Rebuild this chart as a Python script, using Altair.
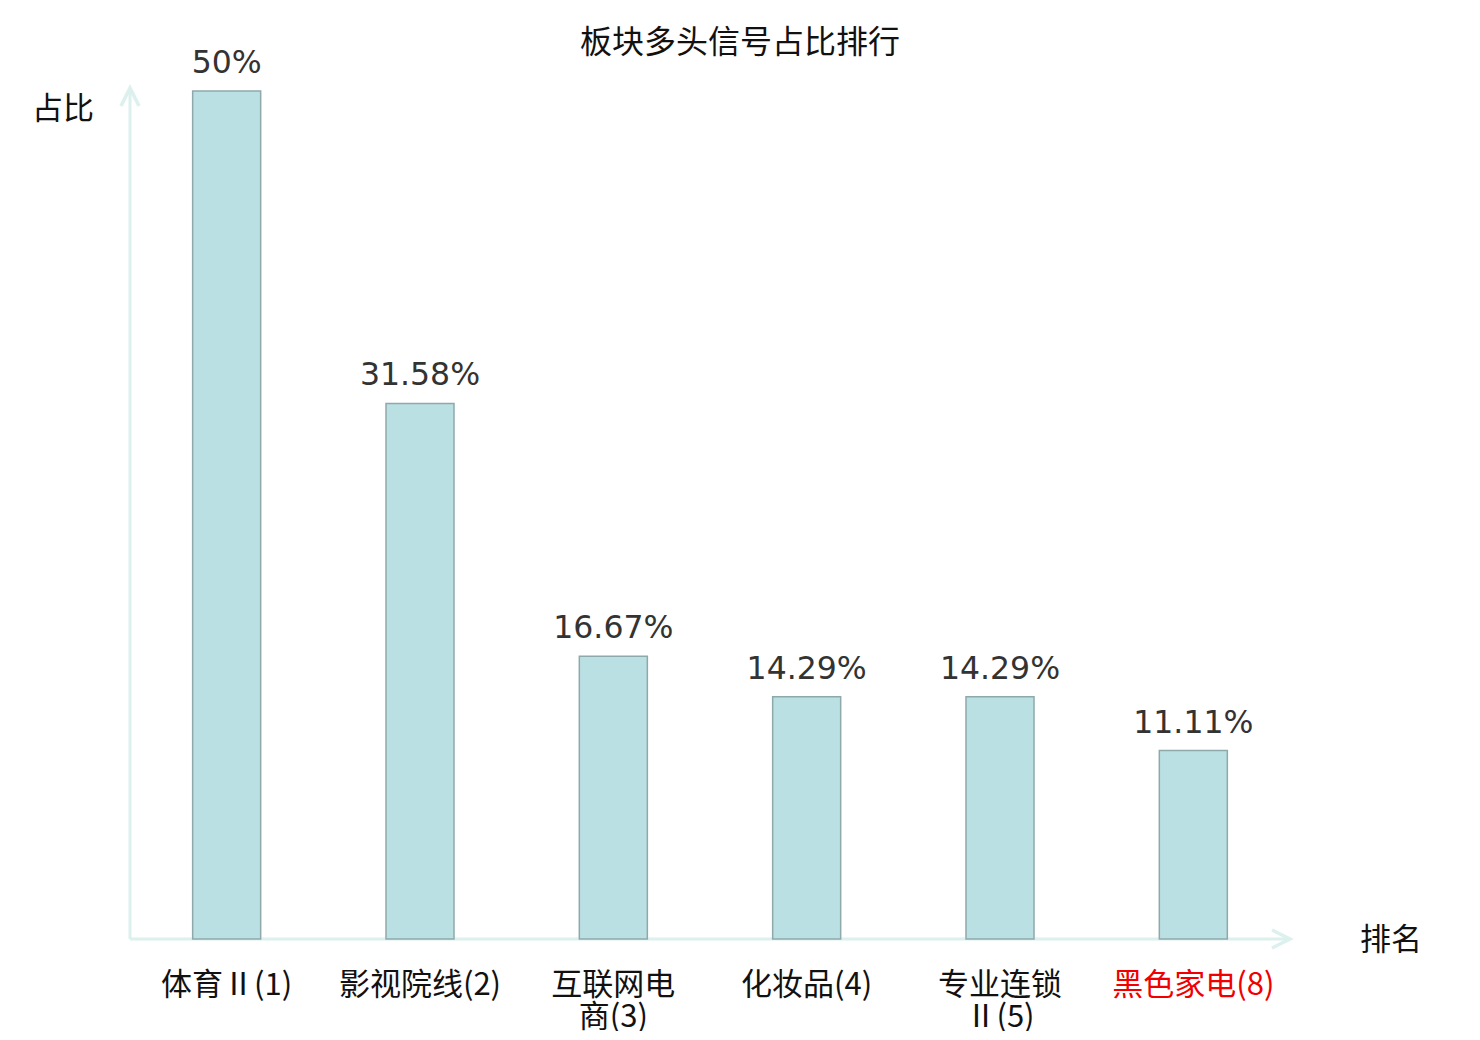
import altair as alt
import pandas as pd

categories = ["体育Ⅱ(1)", "影视院线(2)", "互联网电\n商(3)", "化妆品(4)", "专业连锁\nⅡ(5)", "黑色家电(8)"]
values = [50, 31.58, 16.67, 14.29, 14.29, 11.11]
highlight = "黑色家电(8)"

title_text = "板块多头信号占比排行"
y_title = "占比"
x_title = "排名"

df = pd.DataFrame({"category": categories, "value": values})

W, H = 1160, 848
AXIS_COLOR = "#dcf0ed"
CJK = "Noto Sans CJK SC"

xs = alt.X("category:N", sort=categories, axis=None,
           scale=alt.Scale(paddingInner=0, paddingOuter=0))
ys = alt.Y("value:Q", axis=None, scale=alt.Scale(domain=[0, 50], nice=False, zero=True))

base = alt.Chart(df)

bars = base.mark_bar(size=68, fill="#bbe0e3", stroke="#8ea9aa", strokeWidth=1.5).encode(x=xs, y=ys)

vlabels = base.transform_calculate(
    lbl="format(datum.value, '.2~f') + '%'"
).mark_text(font="DejaVu Sans", fontSize=31.5, color="#333333", baseline="alphabetic", dy=-18).encode(
    x=xs, y=ys, text="lbl:N"
)

xlabels = base.mark_text(font=CJK, fontSize=31, baseline="alphabetic", lineBreak="\n", lineHeight=32).encode(
    x=xs,
    y=alt.value(904),
    text="category:N",
    color=alt.condition(alt.datum.category == highlight, alt.value("#f00000"), alt.value("#111111")),
)

one = alt.Data(values=[{"a": 1}])

xline = alt.Chart(one).mark_rule(color=AXIS_COLOR, strokeWidth=3).encode(
    x=alt.value(0), x2=alt.value(W - 1), y=alt.value(H)
)
yline = alt.Chart(one).mark_rule(color=AXIS_COLOR, strokeWidth=3).encode(
    x=alt.value(0), y=alt.value(H), y2=alt.value(-2)
)
xarrow = alt.Chart(one).mark_point(
    shape="M-1,-0.5L0,0L-1,0.5", size=1296, filled=False, stroke=AXIS_COLOR, strokeWidth=3.5, opacity=1
).encode(x=alt.value(W), y=alt.value(H))
yarrow = alt.Chart(one).mark_point(
    shape="M-0.5,1L0,0L0.5,1", size=1296, filled=False, stroke=AXIS_COLOR, strokeWidth=3.5, opacity=1
).encode(x=alt.value(0), y=alt.value(-3))

title = alt.Chart(one).mark_text(font=CJK, fontSize=32, color="#111111", baseline="middle").encode(
    x=alt.value(610), y=alt.value(-48), text=alt.value(title_text)
)
ytitle = alt.Chart(one).mark_text(font=CJK, fontSize=31, color="#111111", baseline="middle").encode(
    x=alt.value(-67), y=alt.value(19), text=alt.value(y_title)
)
xtitle = alt.Chart(one).mark_text(font=CJK, fontSize=31, color="#111111", baseline="middle").encode(
    x=alt.value(1261), y=alt.value(850), text=alt.value(x_title)
)

chart = alt.layer(
    xline, yline, xarrow, yarrow, bars, vlabels, xlabels, title, ytitle, xtitle
).properties(
    width=W, height=H,
    autosize=alt.AutoSizeParams(type="none"),
    padding={"left": 122, "top": 83, "right": 170, "bottom": 92},
    background="white",
).configure_view(stroke=None)

chart.save("out.html", embed_options={"renderer": "svg", "actions": False})
